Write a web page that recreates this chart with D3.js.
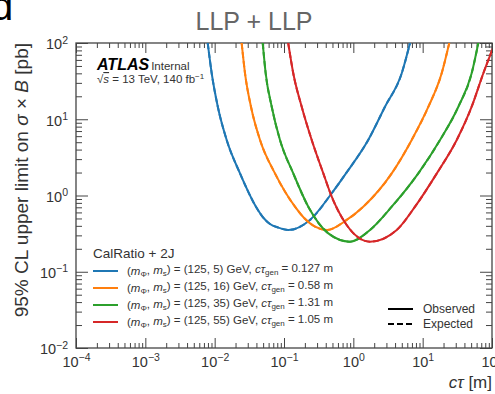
<!DOCTYPE html>
<html>
<head>
<meta charset="utf-8">
<script src="https://cdn.jsdelivr.net/npm/d3@7"></script>
<style>
  html, body { margin: 0; padding: 0; background: #fff; }
  svg { display: block; font-family: "Liberation Sans", Arial, Helvetica, sans-serif; }
</style>
</head>
<body>
<svg id="chart" width="495" height="394"></svg>
<script>
// Lifetime scan: c*tau [m] and 95% CL upper limit on sigma x B [pb]
const ctau_m5  = [0.00794, 0.00906, 0.0111, 0.0149, 0.0232, 0.0394, 0.0515, 0.0628, 0.082, 0.115, 0.237, 0.488, 0.783, 1.64, 2.86, 4.99, 6.57];
const limit_m5 = [100, 40.1, 14.6, 5.35, 1.95, 0.713, 0.499, 0.423, 0.380, 0.353, 0.478, 1.07, 1.95, 5.35, 14.6, 40.1, 100];

const ctau_m16  = [0.0245, 0.0274, 0.0334, 0.0451, 0.0741, 0.144, 0.195, 0.280, 0.417, 0.802, 1.39, 3.58, 6.95, 12.1, 18.8, 24.2];
const limit_m16 = [100, 40.1, 14.6, 5.35, 1.95, 0.713, 0.507, 0.390, 0.353, 0.478, 0.713, 1.95, 5.35, 14.6, 40.1, 100];

const ctau_m35  = [0.0493, 0.0544, 0.0665, 0.0875, 0.136, 0.224, 0.436, 0.895, 1.74, 3.58, 8.65, 17.8, 32.7, 50.9, 63.5];
const limit_m35 = [100, 40.1, 14.6, 5.35, 1.95, 0.713, 0.319, 0.248, 0.353, 0.713, 1.95, 5.35, 14.6, 40.1, 100];

const ctau_m55  = [0.115, 0.136, 0.180, 0.251, 0.369, 0.488, 0.802, 1.74, 4.23, 7.76, 16.0, 31.0, 50.9, 75.0, 105];
const limit_m55 = [100, 40.1, 14.6, 5.35, 1.95, 0.964, 0.410, 0.248, 0.353, 0.713, 1.95, 5.35, 14.6, 40.1, 89.4];

const massPoints = ["5", "16", "35", "55"];
const ctauGen    = ["0.127", "0.58", "1.31", "1.05"];
const colors     = ["#1f77b4", "#ff7f0e", "#2ca02c", "#d62728"];

const xDecades = [-4, -3, -2, -1, 0, 1, 2];
const yDecades = [-2, -1, 0, 1, 2];

const series = [
  { c: ctau_m5,  l: limit_m5  },
  { c: ctau_m16, l: limit_m16 },
  { c: ctau_m35, l: limit_m35 },
  { c: ctau_m55, l: limit_m55 }
];

const svg = d3.select("#chart");
const L = 76, R = 492, T = 43, B = 348;

const x = d3.scaleLog().domain([1e-4, 1e2]).range([L, R]);
const y = d3.scaleLog().domain([1e-2, 1e2]).range([B, T]);

const frameColor = "#444";
const textColor = "#333";

// panel letter, partly outside the canvas
svg.append("text").attr("x", -9).attr("y", 20)
  .attr("font-size", 40).attr("fill", "#000").text("d");

// title
svg.append("text").attr("x", 254).attr("y", 30).attr("text-anchor", "middle")
  .attr("font-size", 25).attr("fill", "#666").text("LLP + LLP");

// tick values
const majorX = xDecades.map(e => Math.pow(10, e));
const minorX = x.ticks().filter(v => Math.abs(Math.log10(v) - Math.round(Math.log10(v))) > 1e-6);
const majorY = yDecades.map(e => Math.pow(10, e));
const minorY = y.ticks().filter(v => Math.abs(Math.log10(v) - Math.round(Math.log10(v))) > 1e-6);

function styleAxis(g) {
  g.select(".domain").remove();
  g.selectAll(".tick line").attr("stroke", frameColor).attr("stroke-width", 1);
}

// bottom axis (inward ticks)
svg.append("g").attr("transform", `translate(0,${B})`)
  .call(d3.axisBottom(x).tickValues(minorX).tickSize(-5).tickFormat(""))
  .call(styleAxis);
const xMajor = svg.append("g").attr("transform", `translate(0,${B})`)
  .call(d3.axisBottom(x).tickValues(majorX).tickSize(-10).tickPadding(20))
  .call(styleAxis);
// top axis
svg.append("g").attr("transform", `translate(0,${T})`)
  .call(d3.axisTop(x).tickValues(minorX).tickSize(-5).tickFormat(""))
  .call(styleAxis);
svg.append("g").attr("transform", `translate(0,${T})`)
  .call(d3.axisTop(x).tickValues(majorX).tickSize(-10).tickFormat(""))
  .call(styleAxis);
// left axis
svg.append("g").attr("transform", `translate(${L},0)`)
  .call(d3.axisLeft(y).tickValues(minorY).tickSize(-6).tickFormat(""))
  .call(styleAxis);
const yMajor = svg.append("g").attr("transform", `translate(${L},0)`)
  .call(d3.axisLeft(y).tickValues(majorY).tickSize(-12).tickPadding(20))
  .call(styleAxis);
// right axis
svg.append("g").attr("transform", `translate(${R},0)`)
  .call(d3.axisRight(y).tickValues(minorY).tickSize(-6).tickFormat(""))
  .call(styleAxis);
svg.append("g").attr("transform", `translate(${R},0)`)
  .call(d3.axisRight(y).tickValues(majorY).tickSize(-12).tickFormat(""))
  .call(styleAxis);

// power-of-ten labels with superscript exponents
function powerLabel(sel) {
  sel.each(function(d) {
    const t = d3.select(this);
    const e = Math.round(Math.log10(d));
    t.text(null).attr("font-size", 14.5).attr("fill", textColor)
      .attr("font-family", "'Liberation Sans', Arial, sans-serif");
    t.append("tspan").text("10");
    t.append("tspan").attr("dy", "-0.55em").attr("font-size", 10.5)
      .text(e < 0 ? "\u2212" + (-e) : String(e));
  });
}
xMajor.selectAll(".tick text").call(powerLabel)
  .attr("y", 0).attr("dy", null).attr("transform", "translate(0,19)");
yMajor.selectAll(".tick text").call(powerLabel)
  .attr("x", -8).attr("dy", "0.4em").attr("text-anchor", "end");

// frame
svg.append("rect").attr("x", L).attr("y", T).attr("width", R - L).attr("height", B - T)
  .attr("fill", "none").attr("stroke", frameColor).attr("stroke-width", 1.3);

// axis titles
svg.append("text")
  .attr("transform", `translate(28,${T}) rotate(-90)`)
  .attr("text-anchor", "end").attr("font-size", 19).attr("fill", textColor)
  .call(t => {
    t.append("tspan").text("95% CL upper limit on ");
    t.append("tspan").attr("font-style", "italic").text("\u03c3");
    t.append("tspan").text(" \u00d7 ");
    t.append("tspan").attr("font-style", "italic").text("B");
    t.append("tspan").text(" [pb]");
  });
svg.append("text").attr("x", R).attr("y", 388).attr("text-anchor", "end")
  .attr("font-size", 17).attr("fill", textColor)
  .call(t => {
    t.append("tspan").attr("font-style", "italic").text("c\u03c4");
    t.append("tspan").text(" [m]");
  });

// curves
svg.append("clipPath").attr("id", "plotClip")
  .append("rect").attr("x", L).attr("y", T).attr("width", R - L).attr("height", B - T);
const line = d3.line().x(d => x(d[0])).y(d => y(d[1])).curve(d3.curveMonotoneX);
const curves = svg.append("g").attr("clip-path", "url(#plotClip)");
series.forEach((s, i) => {
  const pts = s.c.map((c, k) => [c, s.l[k]]);
  // observed
  curves.append("path").attr("d", line(pts)).attr("fill", "none")
    .attr("stroke", colors[i]).attr("stroke-width", 2);
  // expected
  curves.append("path").attr("d", line(pts)).attr("fill", "none")
    .attr("stroke", colors[i]).attr("stroke-width", 2).attr("stroke-dasharray", "6,3");
});

// ATLAS label
const atlas = svg.append("text").attr("x", 97).attr("y", 70).attr("fill", "#000");
atlas.append("tspan").attr("font-weight", "bold").attr("font-style", "italic").attr("font-size", 16).text("ATLAS");
atlas.append("tspan").attr("font-size", 11.5).attr("dx", 2).attr("fill", textColor).text("Internal");
const energy = svg.append("text").attr("x", 97).attr("y", 83).attr("font-size", 11.5).attr("fill", textColor);
energy.append("tspan").text("\u221a");
energy.append("tspan").attr("font-style", "italic").attr("text-decoration", "overline").text("s");
energy.append("tspan").text(" = 13 TeV, 140 fb");
energy.append("tspan").attr("dy", "-0.5em").attr("font-size", 8).text("\u22121");

// sample legend
svg.append("text").attr("x", 93).attr("y", 258).attr("font-size", 13.5).attr("fill", textColor)
  .text("CalRatio + 2J");
massPoints.forEach((m, i) => {
  const yy = 271 + i * 17;
  svg.append("line").attr("x1", 93).attr("x2", 118).attr("y1", yy).attr("y2", yy)
    .attr("stroke", colors[i]).attr("stroke-width", 2);
  const t = svg.append("text").attr("x", 127).attr("y", yy + 4).attr("font-size", 11.5).attr("fill", textColor);
  t.append("tspan").text("(");
  t.append("tspan").attr("font-style", "italic").text("m");
  t.append("tspan").attr("font-size", 8).attr("dy", "0.3em").text("\u03a6");
  t.append("tspan").attr("dy", "-0.3em").text(", ");
  t.append("tspan").attr("font-style", "italic").text("m");
  t.append("tspan").attr("font-size", 8).attr("dy", "0.3em").text("s");
  t.append("tspan").attr("dy", "-0.3em").text(`) = (125, ${m}) GeV, `);
  t.append("tspan").attr("font-style", "italic").text("c\u03c4");
  t.append("tspan").attr("font-size", 8).attr("dy", "0.3em").text("gen");
  t.append("tspan").attr("dy", "-0.3em").text(` = ${ctauGen[i]} m`);
});

// line-style legend
[["Observed", null], ["Expected", "6,3"]].forEach(([label, dash], i) => {
  const yy = 309 + i * 15;
  svg.append("line").attr("x1", 388).attr("x2", 413).attr("y1", yy).attr("y2", yy)
    .attr("stroke", "#000").attr("stroke-width", 2).attr("stroke-dasharray", dash);
  svg.append("text").attr("x", 423).attr("y", yy + 4).attr("font-size", 12).attr("fill", textColor).text(label);
});
</script>
</body>
</html>
